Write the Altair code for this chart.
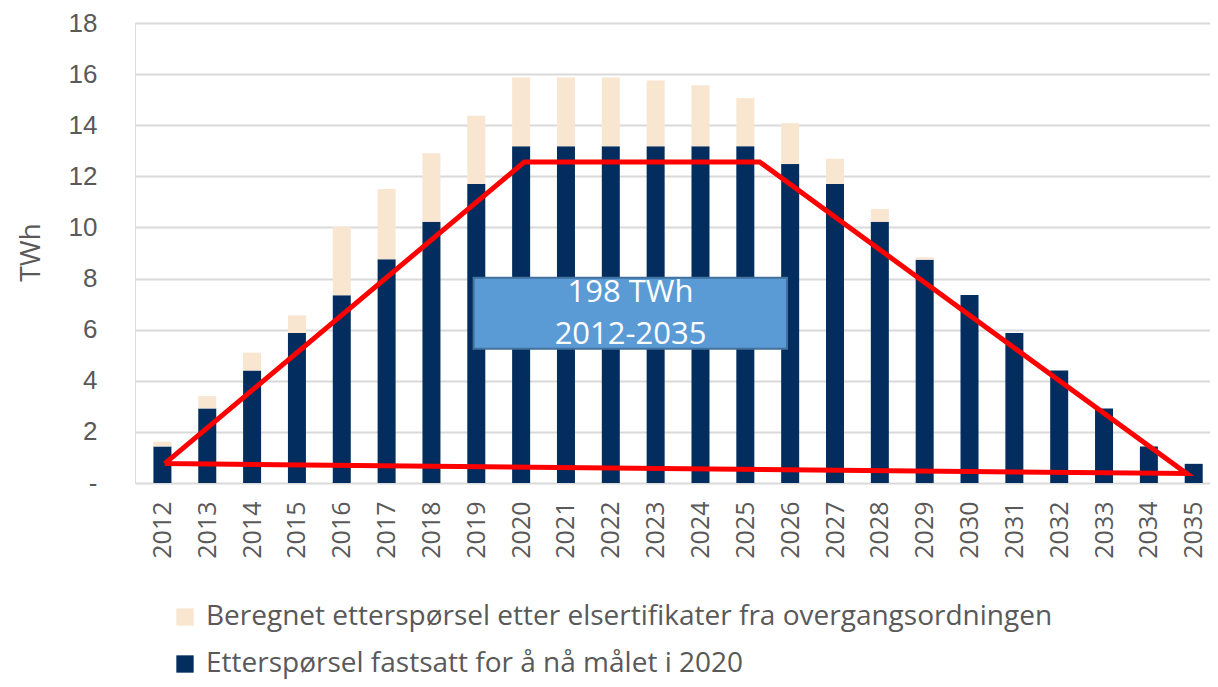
import altair as alt
import pandas as pd

years = list(range(2012, 2036))
fixed = [1.43, 2.92, 4.40, 5.87, 7.35, 8.76, 10.22, 11.70, 13.18, 13.18, 13.18, 13.18,
         13.18, 13.18, 12.48, 11.70, 10.22, 8.74, 7.36, 5.87, 4.40, 2.92, 1.43, 0.75]
extra = [0.19, 0.48, 0.70, 0.69, 2.68, 2.74, 2.68, 2.67, 2.69, 2.69, 2.69, 2.57,
         2.38, 1.88, 1.60, 0.99, 0.50, 0.09, 0.0, 0.0, 0.0, 0.0, 0.0, 0.0]

series_fixed = "Etterspørsel fastsatt for å nå målet i 2020"
series_extra = "Beregnet etterspørsel etter elsertifikater fra overgangsordningen"

# red annotation polygon (year position, TWh)
red_x = [2012.05, 2020.07, 2025.32, 2034.84, 2012.05]
red_y = [0.76, 12.56, 12.56, 0.37, 0.76]

# text box annotation
box_x = [2018.94]
box_x2 = [2025.93]
box_y = [5.25]
box_y2 = [8.03]
box_text_x = [2022.44, 2022.44]
box_text_y = [7.45, 5.81]
box_lines = ["198 TWh", "2012-2035"]

rows = []
for y, f, e in zip(years, fixed, extra):
    rows.append({"year": y, "series": series_fixed, "value": f, "ord": 0})
    rows.append({"year": y, "series": series_extra, "value": e, "ord": 1})
bars_df = pd.DataFrame(rows)
red_df = pd.DataFrame({"x": red_x, "y": red_y, "i": list(range(len(red_x)))})
box_df = pd.DataFrame({"x": box_x, "x2": box_x2, "y": box_y, "y2": box_y2})
txt_df = pd.DataFrame({"x": box_text_x, "y": box_text_y, "t": box_lines})

FONT = "Open Sans"
YFONT = "Liberation Sans"
GREY = "#595959"
W = 1075
H = 460
xdom = [2011.5, 2011.5 + W / 45.26]

xscale = alt.Scale(domain=xdom, nice=False, zero=False)
yscale = alt.Scale(domain=[0, 18], nice=False)

bars = alt.Chart(bars_df).mark_bar(size=18).encode(
    x=alt.X("year:Q", scale=xscale,
            axis=alt.Axis(values=years, format="d", labelAngle=-90, labelAlign="right",
                          labelBaseline="middle", labelPadding=18, labelFontSize=25,
                          labelColor=GREY, labelFont=FONT, ticks=False, domain=False,
                          grid=False, title=None, labelOverlap=False)),
    y=alt.Y("value:Q", stack="zero", scale=yscale,
            axis=alt.Axis(values=list(range(0, 19, 2)), labelExpr="datum.value == 0 ? '-' : datum.label",
                          labelFontSize=26, labelColor=GREY, labelFont=YFONT, labelPadding=38,
                          ticks=False, domain=False, gridColor="#D9D9D9", gridWidth=2,
                          title="TWh", titleFont=FONT, titleFontSize=28, titleColor=GREY,
                          titleFontWeight="normal", titleAngle=-90, titleX=-96, titleY=229,
                          titleBaseline="alphabetic", titleAlign="center")),
    color=alt.Color("series:N",
                    scale=alt.Scale(domain=[series_extra, series_fixed], range=["#F8E6D0", "#022D5E"]),
                    legend=alt.Legend(orient="none", legendX=36, legendY=580, direction="vertical",
                                      title=None, symbolType="square", symbolSize=300,
                                      symbolStrokeWidth=0, labelFontSize=28, labelFont=FONT,
                                      labelColor=GREY, labelLimit=2000, rowPadding=19,
                                      labelOffset=7)),
    order=alt.Order("ord:Q", sort="ascending"),
)

red = alt.Chart(red_df).mark_line(color="#FF0000", strokeWidth=5, strokeJoin="miter").encode(
    x=alt.X("x:Q", scale=xscale),
    y=alt.Y("y:Q", scale=yscale),
    order="i:Q",
)

box = alt.Chart(box_df).mark_rect(fill="#5B9BD5", stroke="#41719C", strokeWidth=2).encode(
    x=alt.X("x:Q", scale=xscale), x2="x2:Q",
    y=alt.Y("y:Q", scale=yscale), y2="y2:Q",
)

txt = alt.Chart(txt_df).mark_text(color="white", fontSize=31, font=FONT, align="center",
                                  baseline="middle").encode(
    x=alt.X("x:Q", scale=xscale),
    y=alt.Y("y:Q", scale=yscale),
    text="t:N",
)

chart = alt.layer(bars, red, box, txt).properties(
    width=W, height=H,
    autosize=alt.AutoSizeParams(type="none"),
    padding={"left": 127, "top": 15, "right": 0, "bottom": 196},
).configure_view(stroke=None).configure(background="white")

chart.save("out.html", embed_options={"renderer": "svg", "actions": False})
